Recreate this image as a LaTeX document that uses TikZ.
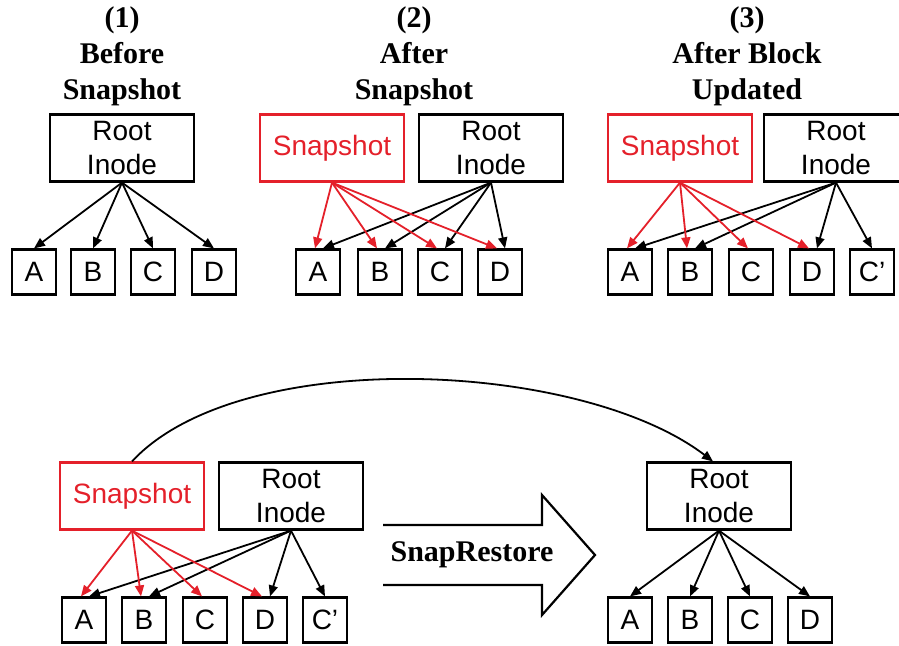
\documentclass[tikz,border=0pt]{standalone}
\usepackage{fontspec}
\setmainfont{Liberation Serif}
\setsansfont{Liberation Sans}
\usetikzlibrary{calc}
\usetikzlibrary{arrows.meta}
\definecolor{snapred}{RGB}{228,32,42}

\begin{document}
\begin{tikzpicture}[x=0.5pt,y=-0.5pt,inner sep=0pt,
  box/.style={draw,line width=1.1pt,minimum width=72pt,minimum height=33.5pt,align=center,font=\sffamily\fontsize{14}{17}\selectfont},
  snapbox/.style={box,draw=snapred,text=snapred},
  blk/.style={draw,line width=1.1pt,minimum width=22pt,minimum height=22.5pt,font=\sffamily\fontsize{14}{17}\selectfont},
  title/.style={align=center,font=\bfseries\fontsize{15}{18}\selectfont},
  ptr/.style={-{Triangle[length=5.5pt,width=4.5pt]},line width=0.9pt},
  rptr/.style={ptr,draw=snapred,fill=snapred}]
\useasboundingbox (0,0) rectangle (899,645);
\def\rs{-3}
\def\bs{5}

\node[title] (t1) at (122,56) {(1)\\Before\\Snapshot};
\node[box] (r1) at (122,148) {Root\\Inode};
\node[blk] (a1) at (34,272) {A};
\node[blk] (b1) at (93,272) {B};
\node[blk] (c1) at (153,272) {C};
\node[blk] (d1) at (214,272) {D};
\draw[ptr] (r1.south) -- (a1.north);
\draw[ptr] (r1.south) -- (b1.north);
\draw[ptr] (r1.south) -- (c1.north);
\draw[ptr] (r1.south) -- (d1.north);

\node[title] (t2) at (414,56) {(2)\\After\\Snapshot};
\node[snapbox] (s2) at (332,148) {Snapshot};
\node[box] (r2) at (491,148) {Root\\Inode};
\node[blk] (a2) at (318,272) {A};
\node[blk] (b2) at (380,272) {B};
\node[blk] (c2) at (440,272) {C};
\node[blk] (d2) at (500,272) {D};
\draw[ptr] (r2.south) -- ($(a2.north)+(\bs,0)$);
\draw[ptr] (r2.south) -- ($(b2.north)+(\bs,0)$);
\draw[ptr] (r2.south) -- ($(c2.north)+(\bs,0)$);
\draw[ptr] (r2.south) -- ($(d2.north)+(\bs,0)$);
\draw[rptr] (s2.south) -- ($(a2.north)+(\rs,0)$);
\draw[rptr] (s2.south) -- ($(b2.north)+(\rs,0)$);
\draw[rptr] (s2.south) -- ($(c2.north)+(\rs,0)$);
\draw[rptr] (s2.south) -- ($(d2.north)+(\rs,0)$);

\node[title] (t3) at (747,56) {(3)\\After Block\\Updated};
\node[snapbox] (s3) at (680,148) {Snapshot};
\node[box] (r3) at (836,148) {Root\\Inode};
\node[blk] (a3) at (630,272) {A};
\node[blk] (b3) at (690,272) {B};
\node[blk] (c3) at (751,272) {C};
\node[blk] (d3) at (812,272) {D};
\node[blk] (e3) at (872,272) {C'};
\draw[ptr] (r3.south) -- ($(a3.north)+(\bs,0)$);
\draw[ptr] (r3.south) -- ($(b3.north)+(\bs,0)$);
\draw[ptr] (r3.south) -- ($(d3.north)+(\bs,0)$);
\draw[ptr] (r3.south) -- (e3.north);
\draw[rptr] (s3.south) -- ($(a3.north)+(\rs,0)$);
\draw[rptr] (s3.south) -- ($(b3.north)+(\rs,0)$);
\draw[rptr] (s3.south) -- ($(c3.north)+(\rs,0)$);
\draw[rptr] (s3.south) -- ($(d3.north)+(\rs,0)$);

\node[snapbox] (s4) at (132,496) {Snapshot};
\node[box] (r4) at (291,496) {Root\\Inode};
\node[blk] (a4) at (84,620) {A};
\node[blk] (b4) at (144,620) {B};
\node[blk] (c4) at (205,620) {C};
\node[blk] (d4) at (265,620) {D};
\node[blk] (e4) at (325,620) {C'};
\draw[ptr] (r4.south) -- ($(a4.north)+(\bs,0)$);
\draw[ptr] (r4.south) -- ($(b4.north)+(\bs,0)$);
\draw[ptr] (r4.south) -- ($(d4.north)+(\bs,0)$);
\draw[ptr] (r4.south) -- (e4.north);
\draw[rptr] (s4.south) -- ($(a4.north)+(\rs,0)$);
\draw[rptr] (s4.south) -- ($(b4.north)+(\rs,0)$);
\draw[rptr] (s4.south) -- ($(c4.north)+(\rs,0)$);
\draw[rptr] (s4.south) -- ($(d4.north)+(\rs,0)$);

\node[box] (r5) at (719,496) {Root\\Inode};
\node[blk] (a5) at (630,620) {A};
\node[blk] (b5) at (690,620) {B};
\node[blk] (c5) at (750,620) {C};
\node[blk] (d5) at (810,620) {D};
\draw[ptr] (r5.south) -- (a5.north);
\draw[ptr] (r5.south) -- (b5.north);
\draw[ptr] (r5.south) -- (c5.north);
\draw[ptr] (r5.south) -- (d5.north);

\draw[ptr] (s4.north) .. controls (240,345) and (580,360) .. ($(r5.north)+(-6,0)$);

\draw[line width=1.1pt,line join=miter] (383,525) -- (542,525) -- (542,495) -- (595,555)
  -- (542,615) -- (542,585) -- (383,585);
\node[title] (sr) at (472,555) {SnapRestore};
\end{tikzpicture}
\end{document}
